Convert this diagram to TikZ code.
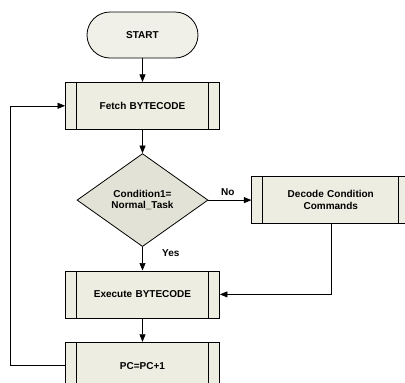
\documentclass[tikz,border=0pt]{standalone}
\usepackage{fontspec}
\setmainfont{Liberation Sans}
\usepackage{tikz}
\usetikzlibrary{shapes.geometric, arrows.meta, positioning}
\usepackage{xcolor}
\definecolor{termfill}{HTML}{F0F0E8}
\definecolor{procfill}{HTML}{EDEDE1}
\definecolor{decfill}{HTML}{E2E2D6}

\begin{document}
\begin{tikzpicture}[node distance=23.5pt, auto, line width=0.8pt,
    font=\bfseries\fontsize{10}{11.7}\selectfont]

			% Define style for boxes
			\tikzstyle{terminal} = [rectangle, draw, fill=termfill,
								rounded corners=23pt, minimum width=111pt,
								minimum height=46pt]
			\tikzstyle{process} = [rectangle, draw, fill=procfill,
								text width=140pt, align=center, inner sep=0pt,
								minimum width=154pt, minimum height=47pt,
								path picture={
									\draw ([xshift=11pt]path picture bounding box.north west) -- ([xshift=11pt]path picture bounding box.south west);
									\draw ([xshift=-11pt]path picture bounding box.north east) -- ([xshift=-11pt]path picture bounding box.south east);
								}]
			\tikzstyle{decision} = [diamond, draw, fill=decfill, align=center,
								inner sep=1pt, aspect=1.4,
								minimum width=131pt, minimum height=93pt]

			% Define style for arrows
			\tikzstyle{line} = [draw, line width=0.6pt, -{Triangle[length=7.5pt, width=6pt]}]

			\useasboundingbox (0,0) rectangle (405pt,-383pt);

			% Place nodes
			\node [terminal] (start) at (142.5pt,-35pt) {START};
			\node [process, below=of start] (fetch) {Fetch BYTECODE};
			\node [decision, below=of fetch] (cond) {Condition1=\\Normal\_Task};
			\node [process, right=43pt of cond, minimum width=158pt] (decode) {Decode Condition\\Commands};
			\node [process, below=of cond] (execute) {Execute BYTECODE};
			\node [process, below=of execute] (pcinc) {PC=PC+1};
			\coordinate [left=55pt of pcinc.west] (back);

			% Draw edges
			\path [line] (start) -- (fetch);
			\path [line] (fetch) -- (cond);
			\path [line] (cond) -- node[pos=0.45, above=1pt] {No} (decode);
			\path [line] (cond) -- node[pos=0.28, right=16pt] {Yes} (execute);
			\path [line] (decode.south) |- (execute.east);
			\path [line] (execute) -- (pcinc);
			\path [line] (pcinc.west) -- (back) |- (fetch.west);
		\end{tikzpicture}
\end{document}
